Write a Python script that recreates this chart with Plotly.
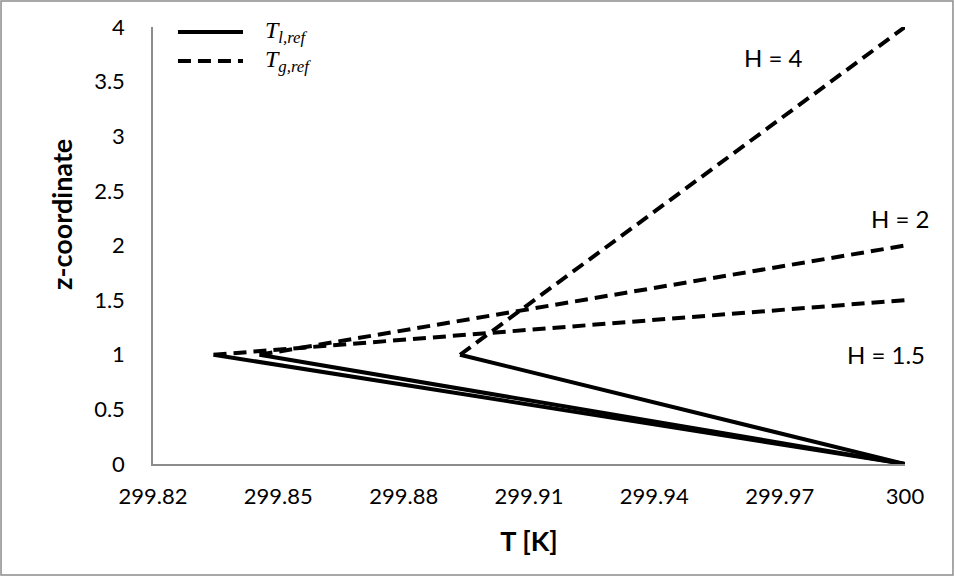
import plotly.graph_objects as go

# Data
H_values = [1.5, 2, 4]
H_labels = ["H = 1.5", "H = 2", "H = 4"]
T_interface = [299.8345, 299.8455, 299.8935]   # temperature at z = 1
T_wall = 300.0
z_interface = 1.0
z_bottom = 0.0

x_ticks = [299.82, 299.85, 299.88, 299.91, 299.94, 299.97, 300]
x_tick_text = ["299.82", "299.85", "299.88", "299.91", "299.94", "299.97", "300"]
y_ticks = [0, 0.5, 1, 1.5, 2, 2.5, 3, 3.5, 4]
y_tick_text = ["0", "0.5", "1", "1.5", "2", "2.5", "3", "3.5", "4"]

# label positions (T, z)
label_T = [299.9954, 299.9988, 299.9686]
label_z = [1.0, 2.25, 3.72]

legend_names = ["<i>T</i><sub><i>l,ref</i></sub>", "<i>T</i><sub><i>g,ref</i></sub>"]
legend_dash = ["solid", "13px,7px"]

LINE_W = 4

fig = go.Figure()

for H, Ti in zip(H_values, T_interface):
    fig.add_trace(go.Scatter(
        x=[T_wall, Ti], y=[z_bottom, z_interface], mode="lines",
        line=dict(color="black", width=LINE_W),
        name="T_l,ref (H=%g)" % H, showlegend=False))
for H, Ti in zip(H_values, T_interface):
    fig.add_trace(go.Scatter(
        x=[Ti, T_wall], y=[z_interface, H], mode="lines",
        line=dict(color="black", width=LINE_W, dash="13px,7px"),
        name="T_g,ref (H=%g)" % H, showlegend=False))

for lt, lz, txt in zip(label_T, label_z, H_labels):
    fig.add_annotation(x=lt, y=lz, text=txt, showarrow=False,
                       font=dict(family="Lato", size=24, color="black"))

# legend drawn with shapes + text
leg_y = [0.9886, 0.9222]
for name, dash, ly in zip(legend_names, legend_dash, leg_y):
    fig.add_shape(type="line", xref="paper", yref="paper",
                  x0=0.0332, x1=0.1197, y0=ly, y1=ly,
                  line=dict(color="black", width=LINE_W, dash=dash))
    fig.add_annotation(xref="paper", yref="paper", x=0.146, y=ly,
                       xanchor="left", yanchor="middle", text=name,
                       showarrow=False,
                       font=dict(family="Liberation Serif", size=24, color="black"))

# y-axis title
fig.add_annotation(xref="paper", yref="paper", x=-0.121, y=0.57,
                   xanchor="center", yanchor="middle", textangle=-90,
                   text="<b>z-coordinate</b>", showarrow=False,
                   font=dict(family="Lato", size=27, color="black"))

# outer frame
fig.add_shape(type="rect", xref="paper", yref="paper",
              x0=-0.2021, x1=1.0638, y0=-0.2540, y1=1.0595,
              line=dict(color="#8c8c8c", width=1.5))

fig.update_layout(
    width=955, height=577,
    margin=dict(l=153, r=50, t=27, b=113),
    paper_bgcolor="white", plot_bgcolor="white",
    font=dict(family="Lato", size=22, color="black"),
    showlegend=False,
    xaxis=dict(range=[299.82, 300], tickvals=x_ticks, ticktext=x_tick_text,
               showgrid=False, zeroline=False, showline=True,
               linecolor="#8c8c8c", linewidth=1.5, ticks="",
               ticklabelstandoff=12, tickfont=dict(size=22),
               title=dict(text="<b>T [K]</b>", font=dict(family="Lato", size=27),
                          standoff=24)),
    yaxis=dict(range=[0, 4], tickvals=y_ticks, ticktext=y_tick_text,
               showgrid=False, zeroline=False, showline=True,
               linecolor="#8c8c8c", linewidth=1.5, ticks="",
               ticklabelstandoff=22, tickfont=dict(size=22)),
)

fig.write_html("out.html")
